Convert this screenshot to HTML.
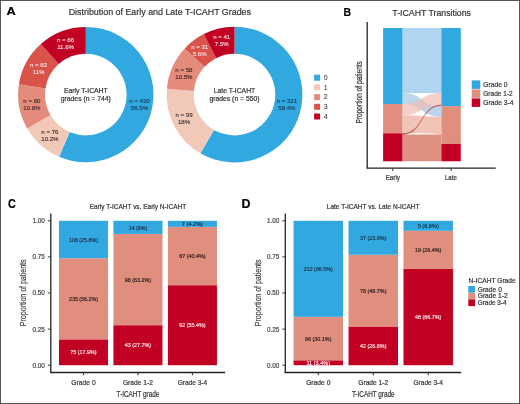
<!DOCTYPE html>
<html><head><meta charset="utf-8"><style>
html,body{margin:0;padding:0;background:#fff;}
svg{display:block;will-change:transform;}
text{font-family:"Liberation Sans",sans-serif;}
</style></head><body>
<svg width="520" height="404" viewBox="0 0 520 404">
<rect width="520" height="404" fill="#fff"/>
<text x="6.60" y="15.20" font-size="11.6" fill="#000" stroke="#000" stroke-width="0.2" text-anchor="start" textLength="9.20" lengthAdjust="spacingAndGlyphs" font-weight="bold">A</text>
<text x="68.70" y="15.40" font-size="9.7" fill="#333" stroke="#333" stroke-width="0.2" text-anchor="start" textLength="182.30" lengthAdjust="spacingAndGlyphs">Distribution of Early and Late T-ICAHT Grades</text>
<path d="M85.80,26.90 A67.7,67.7 0 1 1 59.10,156.81 L69.71,132.09 A40.8,40.8 0 1 0 85.80,53.80 Z" fill="#31a8df"/>
<text x="139.50" y="103.00" font-size="6.1" fill="#1b3550" stroke="#1b3550" stroke-width="0.1" text-anchor="middle">n = 420</text>
<text x="139.50" y="109.70" font-size="6.1" fill="#1b3550" stroke="#1b3550" stroke-width="0.1" text-anchor="middle">56.5%</text>
<path d="M59.10,156.81 A67.7,67.7 0 0 1 27.17,128.45 L50.47,115.00 A40.8,40.8 0 0 0 69.71,132.09 Z" fill="#f2c8b9"/>
<text x="49.90" y="134.30" font-size="6.1" fill="#3a2a28" stroke="#3a2a28" stroke-width="0.1" text-anchor="middle">n = 76</text>
<text x="49.90" y="141.00" font-size="6.1" fill="#3a2a28" stroke="#3a2a28" stroke-width="0.1" text-anchor="middle">10.2%</text>
<path d="M27.17,128.45 A67.7,67.7 0 0 1 18.88,84.35 L45.47,88.42 A40.8,40.8 0 0 0 50.47,115.00 Z" fill="#e58b7b"/>
<text x="31.90" y="103.00" font-size="6.1" fill="#3a2420" stroke="#3a2420" stroke-width="0.1" text-anchor="middle">n = 80</text>
<text x="31.90" y="109.70" font-size="6.1" fill="#3a2420" stroke="#3a2420" stroke-width="0.1" text-anchor="middle">10.8%</text>
<path d="M18.88,84.35 A67.7,67.7 0 0 1 40.84,43.98 L58.70,64.10 A40.8,40.8 0 0 0 45.47,88.42 Z" fill="#d9534b"/>
<text x="38.60" y="67.40" font-size="6.1" fill="#fbe3e3" stroke="#fbe3e3" stroke-width="0.1" text-anchor="middle">n = 82</text>
<text x="38.60" y="74.10" font-size="6.1" fill="#fbe3e3" stroke="#fbe3e3" stroke-width="0.1" text-anchor="middle">11%</text>
<path d="M40.84,43.98 A67.7,67.7 0 0 1 85.80,26.90 L85.80,53.80 A40.8,40.8 0 0 0 58.70,64.10 Z" fill="#c20024"/>
<text x="65.60" y="42.40" font-size="6.1" fill="#fbe3e6" stroke="#fbe3e6" stroke-width="0.1" text-anchor="middle">n = 86</text>
<text x="65.60" y="49.10" font-size="6.1" fill="#fbe3e6" stroke="#fbe3e6" stroke-width="0.1" text-anchor="middle">11.6%</text>
<text x="85.80" y="93.00" font-size="6.8" fill="#333" stroke="#333" stroke-width="0.2" text-anchor="middle">Early T-ICAHT</text>
<text x="85.80" y="101.00" font-size="6.8" fill="#333" stroke="#333" stroke-width="0.2" text-anchor="middle">grades (n = 744)</text>
<path d="M234.50,26.70 A67.9,67.9 0 1 1 200.44,153.34 L214.03,129.89 A40.8,40.8 0 1 0 234.50,53.80 Z" fill="#31a8df"/>
<text x="286.90" y="103.40" font-size="6.1" fill="#1b3550" stroke="#1b3550" stroke-width="0.1" text-anchor="middle">n = 321</text>
<text x="286.90" y="110.10" font-size="6.1" fill="#1b3550" stroke="#1b3550" stroke-width="0.1" text-anchor="middle">58.4%</text>
<path d="M200.44,153.34 A67.9,67.9 0 0 1 166.85,88.79 L193.85,91.11 A40.8,40.8 0 0 0 214.03,129.89 Z" fill="#f2c8b9"/>
<text x="184.10" y="116.90" font-size="6.1" fill="#3a2a28" stroke="#3a2a28" stroke-width="0.1" text-anchor="middle">n = 99</text>
<text x="184.10" y="123.60" font-size="6.1" fill="#3a2a28" stroke="#3a2a28" stroke-width="0.1" text-anchor="middle">18%</text>
<path d="M166.85,88.79 A67.9,67.9 0 0 1 184.74,48.40 L204.60,66.84 A40.8,40.8 0 0 0 193.85,91.11 Z" fill="#e58b7b"/>
<text x="183.90" y="71.90" font-size="6.1" fill="#3a2420" stroke="#3a2420" stroke-width="0.1" text-anchor="middle">n = 58</text>
<text x="183.90" y="78.60" font-size="6.1" fill="#3a2420" stroke="#3a2420" stroke-width="0.1" text-anchor="middle">10.5%</text>
<path d="M184.74,48.40 A67.9,67.9 0 0 1 203.85,34.01 L216.08,58.19 A40.8,40.8 0 0 0 204.60,66.84 Z" fill="#d9534b"/>
<text x="199.70" y="49.10" font-size="6.1" fill="#fbe3e3" stroke="#fbe3e3" stroke-width="0.1" text-anchor="middle">n = 31</text>
<text x="199.70" y="55.80" font-size="6.1" fill="#fbe3e3" stroke="#fbe3e3" stroke-width="0.1" text-anchor="middle">5.6%</text>
<path d="M203.85,34.01 A67.9,67.9 0 0 1 234.50,26.70 L234.50,53.80 A40.8,40.8 0 0 0 216.08,58.19 Z" fill="#c20024"/>
<text x="221.70" y="39.10" font-size="6.1" fill="#fbe3e6" stroke="#fbe3e6" stroke-width="0.1" text-anchor="middle">n = 41</text>
<text x="221.70" y="45.80" font-size="6.1" fill="#fbe3e6" stroke="#fbe3e6" stroke-width="0.1" text-anchor="middle">7.5%</text>
<text x="234.50" y="93.00" font-size="6.8" fill="#333" stroke="#333" stroke-width="0.2" text-anchor="middle">Late T-ICAHT</text>
<text x="234.50" y="101.00" font-size="6.8" fill="#333" stroke="#333" stroke-width="0.2" text-anchor="middle">grades (n = 550)</text>
<rect x="314.10" y="74.70" width="6.00" height="6.00" fill="#31a8df"/>
<text x="323.80" y="79.90" font-size="7.0" fill="#333" stroke="#333" stroke-width="0.05" text-anchor="start">0</text>
<rect x="314.10" y="84.40" width="6.00" height="6.00" fill="#f2c8b9"/>
<text x="323.80" y="89.60" font-size="7.0" fill="#333" stroke="#333" stroke-width="0.05" text-anchor="start">1</text>
<rect x="314.10" y="94.10" width="6.00" height="6.00" fill="#e58b7b"/>
<text x="323.80" y="99.30" font-size="7.0" fill="#333" stroke="#333" stroke-width="0.05" text-anchor="start">2</text>
<rect x="314.10" y="103.80" width="6.00" height="6.00" fill="#d9534b"/>
<text x="323.80" y="109.00" font-size="7.0" fill="#333" stroke="#333" stroke-width="0.05" text-anchor="start">3</text>
<rect x="314.10" y="113.50" width="6.00" height="6.00" fill="#c20024"/>
<text x="323.80" y="118.70" font-size="7.0" fill="#333" stroke="#333" stroke-width="0.05" text-anchor="start">4</text>
<text x="343.60" y="15.50" font-size="11.6" fill="#000" stroke="#000" stroke-width="0.2" text-anchor="start" textLength="7.60" lengthAdjust="spacingAndGlyphs" font-weight="bold">B</text>
<text x="392.30" y="15.80" font-size="9.1" fill="#333" stroke="#333" stroke-width="0.2" text-anchor="start" textLength="78.70" lengthAdjust="spacingAndGlyphs">T-ICAHT Transitions</text>
<path d="M402.4,28 C423.85,28 419.95,28 441.4,28 L441.4,93 C419.95,93 423.85,93 402.4,93 Z" fill="#b0d5f0" fill-opacity="1"/>
<path d="M402.4,115.3 C423.85,115.3 419.95,116.8 441.4,116.8 L441.4,134.0 C419.95,134.0 423.85,133.1 402.4,133.1 Z" fill="#f2c4b8" fill-opacity="1"/>
<path d="M402.4,134.6 C423.85,134.6 419.95,134.6 441.4,134.6 L441.4,161.3 C419.95,161.3 423.85,161.3 402.4,161.3 Z" fill="#e0907f" fill-opacity="1"/>
<path d="M402.4,93 C423.85,93 419.95,106 441.4,106 L441.4,116.8 C419.95,116.8 423.85,104 402.4,104 Z" fill="#bcd6ee" fill-opacity="1"/>
<path d="M402.4,104 C423.85,104 419.95,93 441.4,93 L441.4,104.6 C419.95,104.6 423.85,115.3 402.4,115.3 Z" fill="#efbcb0" fill-opacity="0.7"/>
<path d="M402.4,133.1 C423.85,133.1 419.95,104.4 441.4,104.4 L441.4,106.1 C419.95,106.1 423.85,134.9 402.4,134.9 Z" fill="#c4504e" fill-opacity="0.85"/>
<rect x="383.10" y="28.00" width="19.30" height="76.00" fill="#31a8df"/>
<rect x="383.10" y="104.00" width="19.30" height="29.30" fill="#e08f7e"/>
<rect x="383.10" y="133.30" width="19.30" height="28.00" fill="#c20024"/>
<rect x="441.40" y="28.00" width="19.40" height="78.10" fill="#31a8df"/>
<rect x="441.40" y="106.10" width="19.40" height="37.80" fill="#e08f7e"/>
<rect x="441.40" y="143.90" width="19.40" height="17.40" fill="#c20024"/>
<line x1="367.20" y1="22.00" x2="367.20" y2="168.20" stroke="#222" stroke-width="1.3"/>
<line x1="366.55" y1="168.20" x2="495.70" y2="168.20" stroke="#222" stroke-width="1.3"/>
<line x1="392.75" y1="168.20" x2="392.75" y2="171.00" stroke="#333" stroke-width="1"/>
<line x1="451.10" y1="168.20" x2="451.10" y2="171.00" stroke="#333" stroke-width="1"/>
<text x="392.80" y="180.00" font-size="6.8" fill="#333" stroke="#333" stroke-width="0.2" text-anchor="middle" textLength="14.20" lengthAdjust="spacingAndGlyphs">Early</text>
<text x="450.90" y="179.80" font-size="6.8" fill="#333" stroke="#333" stroke-width="0.2" text-anchor="middle" textLength="11.80" lengthAdjust="spacingAndGlyphs">Late</text>
<text x="0.00" y="0.00" font-size="8.4" fill="#333" stroke="#333" stroke-width="0.2" text-anchor="middle" textLength="62.40" lengthAdjust="spacingAndGlyphs" transform="translate(361.6,92.3) rotate(-90)">Proportion of patients</text>
<rect x="471.70" y="80.40" width="8.50" height="8.50" fill="#31a8df"/>
<text x="483.30" y="87.20" font-size="7.6" fill="#333" stroke="#333" stroke-width="0.2" text-anchor="start" textLength="24.20" lengthAdjust="spacingAndGlyphs">Grade 0</text>
<rect x="471.70" y="89.40" width="8.50" height="8.50" fill="#e08f7e"/>
<text x="483.30" y="96.20" font-size="7.6" fill="#333" stroke="#333" stroke-width="0.2" text-anchor="start" textLength="29.40" lengthAdjust="spacingAndGlyphs">Grade 1-2</text>
<rect x="471.70" y="98.40" width="8.50" height="8.50" fill="#c20024"/>
<text x="483.30" y="105.20" font-size="7.6" fill="#333" stroke="#333" stroke-width="0.2" text-anchor="start" textLength="30.30" lengthAdjust="spacingAndGlyphs">Grade 3-4</text>
<text x="8.00" y="207.50" font-size="12.2" fill="#000" stroke="#000" stroke-width="0.2" text-anchor="start" textLength="7.80" lengthAdjust="spacingAndGlyphs" font-weight="bold">C</text>
<text x="89.70" y="208.90" font-size="7" fill="#333" stroke="#333" stroke-width="0.2" text-anchor="start" textLength="96.50" lengthAdjust="spacingAndGlyphs">Early T-ICAHT vs. Early N-ICAHT</text>
<rect x="58.97" y="339.35" width="49.02" height="25.85" fill="#c20024"/>
<rect x="58.97" y="258.20" width="49.02" height="81.15" fill="#e08f7e"/>
<rect x="58.97" y="220.80" width="49.02" height="37.40" fill="#31a8df"/>
<text x="83.48" y="354.48" font-size="6.2" fill="#f8dde0" stroke="#f8dde0" stroke-width="0.2" text-anchor="middle" textLength="26.40" lengthAdjust="spacingAndGlyphs">75 (17.9%)</text>
<text x="83.48" y="300.98" font-size="6.2" fill="#33231f" stroke="#33231f" stroke-width="0.2" text-anchor="middle" textLength="29.04" lengthAdjust="spacingAndGlyphs">235 (56.2%)</text>
<text x="83.48" y="241.70" font-size="6.2" fill="#1b3550" stroke="#1b3550" stroke-width="0.2" text-anchor="middle" textLength="29.04" lengthAdjust="spacingAndGlyphs">108 (25.8%)</text>
<line x1="83.48" y1="372.50" x2="83.48" y2="375.30" stroke="#333" stroke-width="1"/>
<text x="83.48" y="384.90" font-size="7.6" fill="#333" stroke="#333" stroke-width="0.2" text-anchor="middle" textLength="24.30" lengthAdjust="spacingAndGlyphs">Grade 0</text>
<rect x="113.44" y="325.20" width="49.02" height="40.00" fill="#c20024"/>
<rect x="113.44" y="233.94" width="49.02" height="91.26" fill="#e08f7e"/>
<rect x="113.44" y="220.80" width="49.02" height="13.14" fill="#31a8df"/>
<text x="137.95" y="347.40" font-size="6.2" fill="#f8dde0" stroke="#f8dde0" stroke-width="0.2" text-anchor="middle" textLength="26.40" lengthAdjust="spacingAndGlyphs">43 (27.7%)</text>
<text x="137.95" y="281.77" font-size="6.2" fill="#33231f" stroke="#33231f" stroke-width="0.2" text-anchor="middle" textLength="26.40" lengthAdjust="spacingAndGlyphs">98 (63.2%)</text>
<text x="137.95" y="229.57" font-size="6.2" fill="#1b3550" stroke="#1b3550" stroke-width="0.2" text-anchor="middle" textLength="18.48" lengthAdjust="spacingAndGlyphs">14 (9%)</text>
<line x1="137.95" y1="372.50" x2="137.95" y2="375.30" stroke="#333" stroke-width="1"/>
<text x="137.95" y="384.90" font-size="7.6" fill="#333" stroke="#333" stroke-width="0.2" text-anchor="middle" textLength="30.00" lengthAdjust="spacingAndGlyphs">Grade 1-2</text>
<rect x="167.91" y="285.20" width="49.02" height="80.00" fill="#c20024"/>
<rect x="167.91" y="226.86" width="49.02" height="58.34" fill="#e08f7e"/>
<rect x="167.91" y="220.80" width="49.02" height="6.06" fill="#31a8df"/>
<text x="192.42" y="327.40" font-size="6.2" fill="#f8dde0" stroke="#f8dde0" stroke-width="0.2" text-anchor="middle" textLength="26.40" lengthAdjust="spacingAndGlyphs">92 (55.4%)</text>
<text x="192.42" y="258.23" font-size="6.2" fill="#33231f" stroke="#33231f" stroke-width="0.2" text-anchor="middle" textLength="26.40" lengthAdjust="spacingAndGlyphs">67 (40.4%)</text>
<text x="192.42" y="226.03" font-size="6.2" fill="#1b3550" stroke="#1b3550" stroke-width="0.2" text-anchor="middle" textLength="21.12" lengthAdjust="spacingAndGlyphs">7 (4.2%)</text>
<line x1="192.42" y1="372.50" x2="192.42" y2="375.30" stroke="#333" stroke-width="1"/>
<text x="192.42" y="384.90" font-size="7.6" fill="#333" stroke="#333" stroke-width="0.2" text-anchor="middle" textLength="29.40" lengthAdjust="spacingAndGlyphs">Grade 3-4</text>
<line x1="50.80" y1="213.40" x2="50.80" y2="373.10" stroke="#222" stroke-width="1.3"/>
<line x1="50.15" y1="372.50" x2="225.10" y2="372.50" stroke="#222" stroke-width="1.3"/>
<line x1="47.80" y1="365.20" x2="50.80" y2="365.20" stroke="#333" stroke-width="1"/>
<text x="44.80" y="367.60" font-size="7" fill="#444" stroke="#444" stroke-width="0.2" text-anchor="end" textLength="12.40" lengthAdjust="spacingAndGlyphs">0.00</text>
<line x1="47.80" y1="329.10" x2="50.80" y2="329.10" stroke="#333" stroke-width="1"/>
<text x="44.80" y="331.50" font-size="7" fill="#444" stroke="#444" stroke-width="0.2" text-anchor="end" textLength="12.40" lengthAdjust="spacingAndGlyphs">0.25</text>
<line x1="47.80" y1="293.00" x2="50.80" y2="293.00" stroke="#333" stroke-width="1"/>
<text x="44.80" y="295.40" font-size="7" fill="#444" stroke="#444" stroke-width="0.2" text-anchor="end" textLength="12.40" lengthAdjust="spacingAndGlyphs">0.50</text>
<line x1="47.80" y1="256.90" x2="50.80" y2="256.90" stroke="#333" stroke-width="1"/>
<text x="44.80" y="259.30" font-size="7" fill="#444" stroke="#444" stroke-width="0.2" text-anchor="end" textLength="12.40" lengthAdjust="spacingAndGlyphs">0.75</text>
<line x1="47.80" y1="220.80" x2="50.80" y2="220.80" stroke="#333" stroke-width="1"/>
<text x="44.80" y="223.20" font-size="7" fill="#444" stroke="#444" stroke-width="0.2" text-anchor="end" textLength="12.40" lengthAdjust="spacingAndGlyphs">1.00</text>
<text x="137.95" y="396.90" font-size="8.5" fill="#333" stroke="#333" stroke-width="0.2" text-anchor="middle" textLength="42.70" lengthAdjust="spacingAndGlyphs">T-ICAHT grade</text>
<text x="0.00" y="0.00" font-size="8.6" fill="#444" stroke="#444" stroke-width="0.2" text-anchor="middle" textLength="66.70" lengthAdjust="spacingAndGlyphs" transform="translate(26.4,292.8) rotate(-90)">Proportion of patients</text>
<text x="241.60" y="207.50" font-size="12.2" fill="#000" stroke="#000" stroke-width="0.2" text-anchor="start" textLength="9.00" lengthAdjust="spacingAndGlyphs" font-weight="bold">D</text>
<text x="326.75" y="208.90" font-size="7" fill="#333" stroke="#333" stroke-width="0.2" text-anchor="start" textLength="92.75" lengthAdjust="spacingAndGlyphs">Late T-ICAHT vs. Late N-ICAHT</text>
<rect x="293.55" y="360.29" width="49.47" height="4.91" fill="#c20024"/>
<rect x="293.55" y="316.83" width="49.47" height="43.46" fill="#e08f7e"/>
<rect x="293.55" y="220.80" width="49.47" height="96.03" fill="#31a8df"/>
<text x="318.28" y="364.95" font-size="6.2" fill="#f8dde0" stroke="#f8dde0" stroke-width="0.2" text-anchor="middle" textLength="23.76" lengthAdjust="spacingAndGlyphs">11 (3.4%)</text>
<text x="318.28" y="340.76" font-size="6.2" fill="#33231f" stroke="#33231f" stroke-width="0.2" text-anchor="middle" textLength="26.40" lengthAdjust="spacingAndGlyphs">96 (30.1%)</text>
<text x="318.28" y="271.01" font-size="6.2" fill="#1b3550" stroke="#1b3550" stroke-width="0.2" text-anchor="middle" textLength="29.04" lengthAdjust="spacingAndGlyphs">212 (66.5%)</text>
<line x1="318.28" y1="372.50" x2="318.28" y2="375.30" stroke="#333" stroke-width="1"/>
<text x="318.28" y="384.90" font-size="7.6" fill="#333" stroke="#333" stroke-width="0.2" text-anchor="middle" textLength="24.30" lengthAdjust="spacingAndGlyphs">Grade 0</text>
<rect x="348.52" y="326.50" width="49.47" height="38.70" fill="#c20024"/>
<rect x="348.52" y="254.73" width="49.47" height="71.77" fill="#e08f7e"/>
<rect x="348.52" y="220.80" width="49.47" height="33.93" fill="#31a8df"/>
<text x="373.25" y="348.05" font-size="6.2" fill="#f8dde0" stroke="#f8dde0" stroke-width="0.2" text-anchor="middle" textLength="26.40" lengthAdjust="spacingAndGlyphs">42 (26.8%)</text>
<text x="373.25" y="292.82" font-size="6.2" fill="#33231f" stroke="#33231f" stroke-width="0.2" text-anchor="middle" textLength="26.40" lengthAdjust="spacingAndGlyphs">78 (49.7%)</text>
<text x="373.25" y="239.97" font-size="6.2" fill="#1b3550" stroke="#1b3550" stroke-width="0.2" text-anchor="middle" textLength="26.40" lengthAdjust="spacingAndGlyphs">37 (23.6%)</text>
<line x1="373.25" y1="372.50" x2="373.25" y2="375.30" stroke="#333" stroke-width="1"/>
<text x="373.25" y="384.90" font-size="7.6" fill="#333" stroke="#333" stroke-width="0.2" text-anchor="middle" textLength="30.00" lengthAdjust="spacingAndGlyphs">Grade 1-2</text>
<rect x="403.49" y="268.89" width="49.47" height="96.31" fill="#c20024"/>
<rect x="403.49" y="230.76" width="49.47" height="38.12" fill="#e08f7e"/>
<rect x="403.49" y="220.80" width="49.47" height="9.96" fill="#31a8df"/>
<text x="428.22" y="319.24" font-size="6.2" fill="#f8dde0" stroke="#f8dde0" stroke-width="0.2" text-anchor="middle" textLength="26.40" lengthAdjust="spacingAndGlyphs">48 (66.7%)</text>
<text x="428.22" y="252.02" font-size="6.2" fill="#33231f" stroke="#33231f" stroke-width="0.2" text-anchor="middle" textLength="26.40" lengthAdjust="spacingAndGlyphs">19 (26.4%)</text>
<text x="428.22" y="227.98" font-size="6.2" fill="#1b3550" stroke="#1b3550" stroke-width="0.2" text-anchor="middle" textLength="21.12" lengthAdjust="spacingAndGlyphs">5 (6.9%)</text>
<line x1="428.22" y1="372.50" x2="428.22" y2="375.30" stroke="#333" stroke-width="1"/>
<text x="428.22" y="384.90" font-size="7.6" fill="#333" stroke="#333" stroke-width="0.2" text-anchor="middle" textLength="29.40" lengthAdjust="spacingAndGlyphs">Grade 3-4</text>
<line x1="285.30" y1="213.40" x2="285.30" y2="373.10" stroke="#222" stroke-width="1.3"/>
<line x1="284.65" y1="372.50" x2="461.20" y2="372.50" stroke="#222" stroke-width="1.3"/>
<line x1="282.30" y1="365.20" x2="285.30" y2="365.20" stroke="#333" stroke-width="1"/>
<text x="279.30" y="367.60" font-size="7" fill="#444" stroke="#444" stroke-width="0.2" text-anchor="end" textLength="12.40" lengthAdjust="spacingAndGlyphs">0.00</text>
<line x1="282.30" y1="329.10" x2="285.30" y2="329.10" stroke="#333" stroke-width="1"/>
<text x="279.30" y="331.50" font-size="7" fill="#444" stroke="#444" stroke-width="0.2" text-anchor="end" textLength="12.40" lengthAdjust="spacingAndGlyphs">0.25</text>
<line x1="282.30" y1="293.00" x2="285.30" y2="293.00" stroke="#333" stroke-width="1"/>
<text x="279.30" y="295.40" font-size="7" fill="#444" stroke="#444" stroke-width="0.2" text-anchor="end" textLength="12.40" lengthAdjust="spacingAndGlyphs">0.50</text>
<line x1="282.30" y1="256.90" x2="285.30" y2="256.90" stroke="#333" stroke-width="1"/>
<text x="279.30" y="259.30" font-size="7" fill="#444" stroke="#444" stroke-width="0.2" text-anchor="end" textLength="12.40" lengthAdjust="spacingAndGlyphs">0.75</text>
<line x1="282.30" y1="220.80" x2="285.30" y2="220.80" stroke="#333" stroke-width="1"/>
<text x="279.30" y="223.20" font-size="7" fill="#444" stroke="#444" stroke-width="0.2" text-anchor="end" textLength="12.40" lengthAdjust="spacingAndGlyphs">1.00</text>
<text x="373.25" y="396.90" font-size="8.5" fill="#333" stroke="#333" stroke-width="0.2" text-anchor="middle" textLength="42.70" lengthAdjust="spacingAndGlyphs">T-ICAHT grade</text>
<text x="0.00" y="0.00" font-size="8.6" fill="#444" stroke="#444" stroke-width="0.2" text-anchor="middle" textLength="66.70" lengthAdjust="spacingAndGlyphs" transform="translate(260.9,292.8) rotate(-90)">Proportion of patients</text>
<text x="468.60" y="282.90" font-size="7.2" fill="#333" stroke="#333" stroke-width="0.2" text-anchor="start" textLength="47.10" lengthAdjust="spacingAndGlyphs">N-ICAHT Grade</text>
<rect x="468.30" y="286.00" width="6.70" height="6.70" fill="#31a8df"/>
<text x="477.70" y="291.60" font-size="7.2" fill="#333" stroke="#333" stroke-width="0.2" text-anchor="start" textLength="24.20" lengthAdjust="spacingAndGlyphs">Grade 0</text>
<rect x="468.30" y="292.70" width="6.70" height="6.70" fill="#e08f7e"/>
<text x="477.70" y="298.30" font-size="7.2" fill="#333" stroke="#333" stroke-width="0.2" text-anchor="start" textLength="30.10" lengthAdjust="spacingAndGlyphs">Grade 1-2</text>
<rect x="468.30" y="299.40" width="6.70" height="6.70" fill="#c20024"/>
<text x="477.70" y="305.00" font-size="7.2" fill="#333" stroke="#333" stroke-width="0.2" text-anchor="start" textLength="28.90" lengthAdjust="spacingAndGlyphs">Grade 3-4</text>
<rect x="0.5" y="0.5" width="519" height="403" fill="none" stroke="#555" stroke-width="1"/>
</svg></body></html>
